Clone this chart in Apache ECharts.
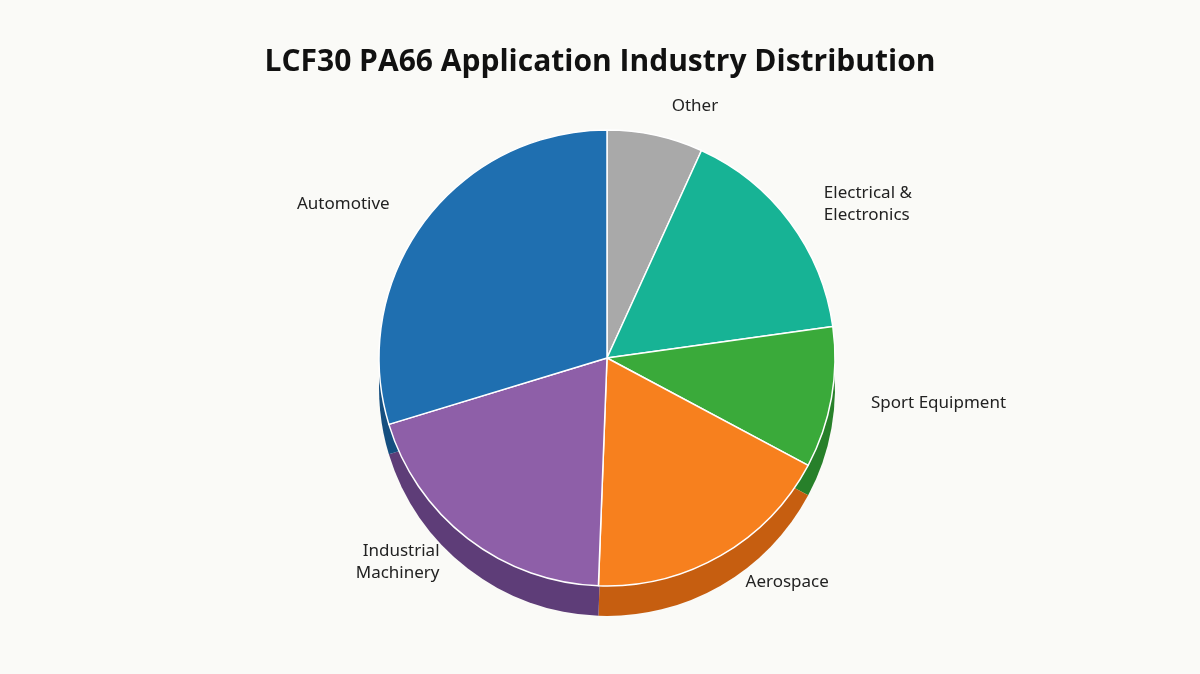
<!DOCTYPE html>
<html><head><meta charset="utf-8">
<script src="https://cdn.jsdelivr.net/npm/echarts@6/dist/echarts.min.js"></script>
<style>html,body{margin:0;background:#fafaf7}#c{width:1200px;height:674px}</style>
</head><body><div id="c"></div>
<script>
const categories=['Other','Electrical &\nElectronics','Sport Equipment','Aerospace','Industrial\nMachinery','Automotive'];
const values=[6.8,16,10,17.8,19.7,29.7];
const colors=['#a9a9a9','#17b395','#3aaa3a','#f7801e','#8e5fa8','#1f6fb0'];
const sideColors=['#7d7d7d','#0f8a72','#27802a','#c65e10','#5e3d78','#154f80'];
const chart=echarts.init(document.getElementById('c'));
chart.setOption({
  backgroundColor:'#fafaf7',
  title:{text:'LCF30 PA66 Application Industry Distribution',left:'center',top:42,
    textStyle:{fontFamily:'Open Sans',fontSize:30,fontWeight:'bold',color:'#111'}},
  series:[
    {type:'pie',silent:true,radius:228,center:[607,388],startAngle:90,clockwise:true,z:1,
     label:{show:false},labelLine:{show:false},
     data:values.map((v,i)=>({value:v,name:categories[i],itemStyle:{color:sideColors[i]}}))},
    {type:'pie',radius:228,center:[607,358],startAngle:90,clockwise:true,z:2,
     itemStyle:{borderColor:'#ffffff',borderWidth:1.5},
     label:{show:true,position:'outside',fontFamily:'Noto Sans',fontSize:17,color:'#222',lineHeight:22,distanceToLabelLine:0},
     labelLine:{show:false,length:30,length2:10},
     data:values.map((v,i)=>({value:v,name:categories[i],itemStyle:{color:colors[i]}}))}
  ]
});
</script></body></html>
